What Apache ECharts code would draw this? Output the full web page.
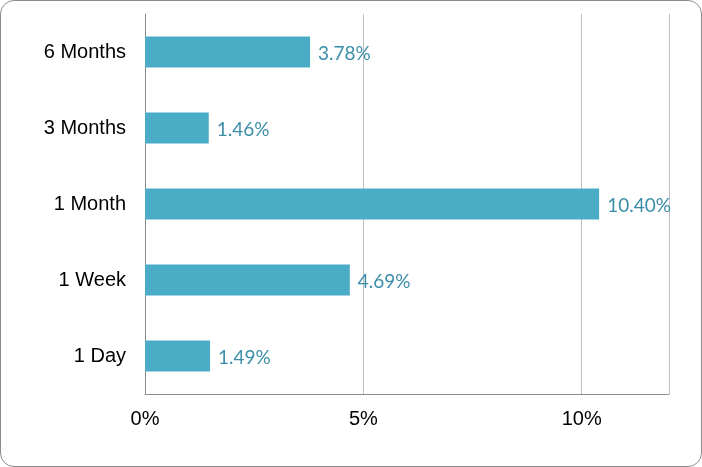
<!DOCTYPE html>
<html>
<head>
<meta charset="UTF-8">
<script src="https://cdn.jsdelivr.net/npm/echarts@6/dist/echarts.min.js"></script>
<style>
    body { margin: 0; background: #fff; }
    #chart {
        width: 700px;
        height: 465px;
        border: 1px solid #8c8c8c;
        border-radius: 14px;
        overflow: hidden;
    }
</style>
</head>
<body>
<div id="chart"></div>
<script>
    // 数据
    var categories = ['1 Day', '1 Week', '1 Month', '3 Months', '6 Months'];
    var values = [1.49, 4.69, 10.40, 1.46, 3.78];
    var tickLabels = ['0%', '5%', '10%'];

    var myChart = echarts.init(document.getElementById('chart'));
    var option = {
        animation: false,
        grid: { left: 144, right: 32, top: 13, bottom: 72, containLabel: false },
        xAxis: {
            type: 'value',
            min: 0,
            max: 12,
            interval: 5,
            axisLine: { show: true, lineStyle: { color: '#8c8c8c', width: 1 } },
            axisTick: { show: false },
            splitLine: { lineStyle: { color: '#bfbfbf', width: 1 } },
            axisLabel: {
                margin: 15,
                fontFamily: 'Liberation Sans, Arial',
                fontSize: 20,
                color: '#000',
                formatter: function (v) {
                    var i = [0, 5, 10].indexOf(v);
                    return i >= 0 ? tickLabels[i] : '';
                }
            }
        },
        yAxis: {
            type: 'category',
            data: categories,
            axisLine: { show: true, lineStyle: { color: '#8c8c8c', width: 1 } },
            axisTick: { show: false },
            axisLabel: {
                margin: 19,
                fontFamily: 'Liberation Sans, Arial',
                fontSize: 20,
                color: '#000'
            }
        },
        series: [{
            type: 'bar',
            data: values,
            barWidth: 31,
            itemStyle: { color: '#4bacc6' },
            label: {
                show: true,
                position: 'right',
                distance: 8,
                offset: [0, 2],
                fontFamily: 'Lato, Carlito, sans-serif',
                fontSize: 19,
                color: '#3b8ea8',
                formatter: function (p) { return p.value.toFixed(2) + '%'; }
            }
        }]
    };
    myChart.setOption(option);
</script>
</body>
</html>
